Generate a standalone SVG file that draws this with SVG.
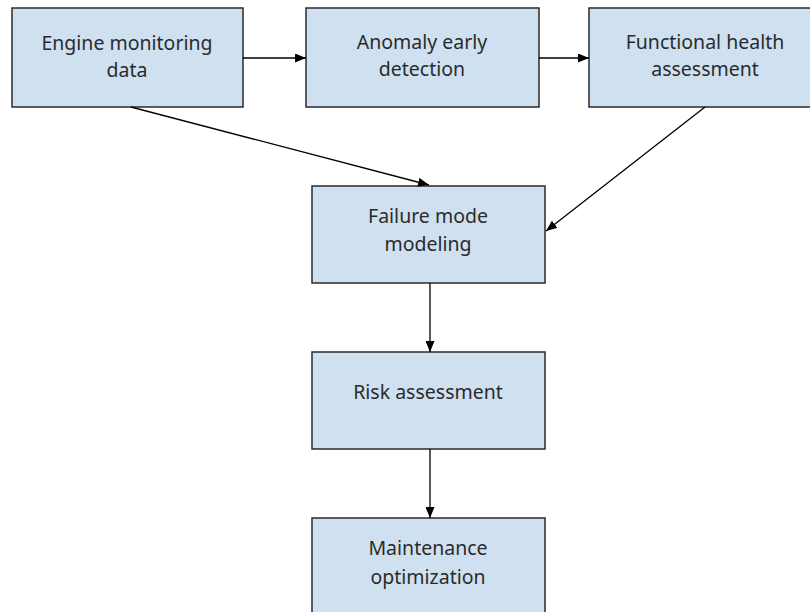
<svg xmlns="http://www.w3.org/2000/svg" width="810" height="612" viewBox="0 0 810 612">
<defs>
<marker id="ah" markerWidth="11" markerHeight="9" refX="11" refY="4.5" orient="auto" markerUnits="userSpaceOnUse">
<path d="M0,0 L11,4.5 L0,9 Z" fill="#000"/>
</marker>
<style>
.box{fill:#cfe0f1;stroke:#2b2b2b;stroke-width:1.5}
.t{font-family:"Noto Sans","Open Sans",sans-serif;font-size:19.5px;fill:#2b2b2b;text-anchor:middle}
.c{stroke:#000;stroke-width:1.3;fill:none;marker-end:url(#ah)}
</style>
</defs>
<rect width="810" height="612" fill="#fff"/>
<g id="n1"><rect class="box" x="12" y="8" width="231" height="99"/><text class="t" x="127" y="50">Engine monitoring</text><text class="t" x="127" y="77">data</text></g>
<g id="n2"><rect class="box" x="306" y="8" width="233" height="99"/><text class="t" x="422" y="49">Anomaly early</text><text class="t" x="422" y="76">detection</text></g>
<g id="n3"><rect class="box" x="589" y="8" width="233" height="99"/><text class="t" x="705" y="49">Functional health</text><text class="t" x="705" y="76">assessment</text></g>
<g id="n4"><rect class="box" x="312" y="186" width="233" height="97"/><text class="t" x="428" y="223">Failure mode</text><text class="t" x="428" y="251">modeling</text></g>
<g id="n5"><rect class="box" x="312" y="352" width="233" height="97"/><text class="t" x="428" y="399">Risk assessment</text></g>
<g id="n6"><rect class="box" x="312" y="518" width="233" height="100"/><text class="t" x="428" y="555">Maintenance</text><text class="t" x="428" y="584">optimization</text></g>
<g id="connectors">
<line class="c" x1="243" y1="58" x2="306" y2="58"/>
<line class="c" x1="539" y1="58" x2="589" y2="58"/>
<line class="c" x1="131" y1="107" x2="429" y2="185"/>
<line class="c" x1="705" y1="107" x2="546" y2="231"/>
<line class="c" x1="430" y1="283" x2="430" y2="352"/>
<line class="c" x1="430" y1="449" x2="430" y2="518"/>
</g>
</svg>
